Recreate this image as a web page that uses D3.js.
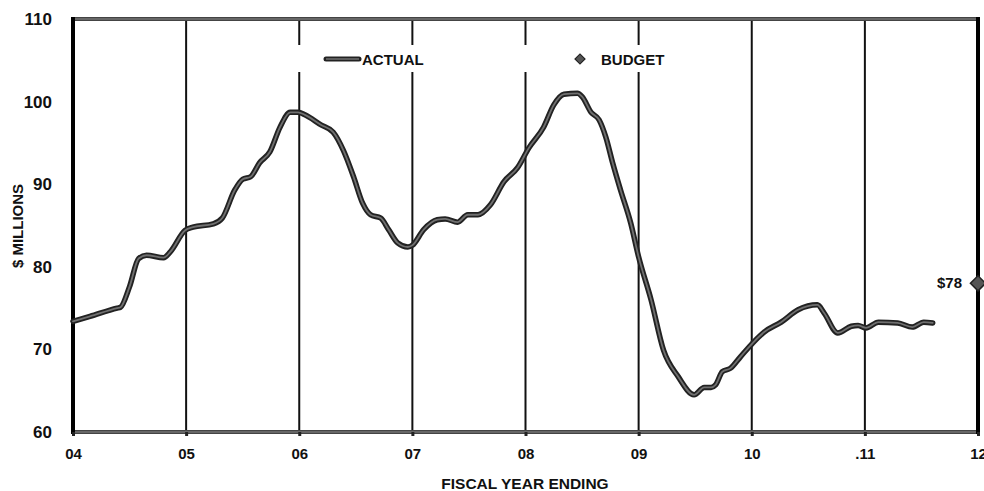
<!DOCTYPE html>
<html>
<head>
<meta charset="utf-8">
<script src="https://cdn.jsdelivr.net/npm/d3@7"></script>
<style>
  html, body { margin: 0; padding: 0; background: #fff; }
  svg { display: block; font-family: Arial, "Liberation Sans", sans-serif; font-weight: bold; }
</style>
</head>
<body>
<svg id="chart" width="984" height="491"></svg>
<script>
// Fiscal-year ticks and their labels
const yearTicks = [2004, 2005, 2006, 2007, 2008, 2009, 2010, 2011, 2012];
const yearLabels = ["04", "05", "06", "07", "08", "09", "10", ".11", "12"];
const valueTicks = [60, 70, 80, 90, 100, 110];

// Actual revenue ($ millions) by fractional fiscal year
const periods = [
  2004.00, 2004.15, 2004.39, 2004.42, 2004.50, 2004.58, 2004.65, 2004.80, 2004.86, 2004.99,
  2005.06, 2005.24, 2005.32, 2005.43, 2005.50, 2005.57, 2005.65, 2005.74, 2005.83, 2005.92,
  2005.99, 2006.05, 2006.19, 2006.30, 2006.39, 2006.48, 2006.56, 2006.63, 2006.72, 2006.79,
  2006.87, 2006.96, 2007.00, 2007.10, 2007.22, 2007.29, 2007.40, 2007.49, 2007.58, 2007.69,
  2007.81, 2007.93, 2008.03, 2008.16, 2008.25, 2008.34, 2008.46, 2008.50, 2008.58, 2008.65,
  2008.71, 2008.77, 2008.84, 2008.93, 2009.00, 2009.11, 2009.22, 2009.35, 2009.49, 2009.58,
  2009.64, 2009.68, 2009.74, 2009.81, 2009.90, 2010.01, 2010.11, 2010.26, 2010.41, 2010.58,
  2010.64, 2010.76, 2010.88, 2010.94, 2011.01, 2011.12, 2011.29, 2011.42, 2011.52, 2011.60
];
const actual = [
  73.4, 74.0, 75.0, 75.1, 77.6, 81.0, 81.4, 81.1, 81.8, 84.4,
  84.8, 85.2, 85.9, 89.3, 90.6, 90.9, 92.6, 93.9, 96.9, 98.7,
  98.7, 98.4, 97.2, 96.3, 94.1, 90.9, 87.7, 86.3, 85.9, 84.5,
  82.9, 82.4, 82.6, 84.5, 85.7, 85.8, 85.4, 86.3, 86.3, 87.5,
  90.3, 92.0, 94.4, 96.9, 99.6, 100.9, 101.0, 100.6, 98.7, 97.8,
  95.7, 92.6, 89.3, 85.3, 81.2, 76.0, 69.9, 66.7, 64.5, 65.4,
  65.4, 65.7, 67.3, 67.7, 69.1, 70.8, 72.1, 73.3, 74.8, 75.4,
  74.4, 72.0, 72.8, 72.9, 72.6, 73.3, 73.2, 72.7, 73.3, 73.2
];

// Budget target for fiscal year 2012
const budgetYear = [2012];
const budgetValue = [78];

const svg = d3.select("#chart");
const plotLeft = 73, plotRight = 978, plotTop = 19, plotBottom = 432;

const x = d3.scaleLinear().domain([2004, 2012]).range([plotLeft, plotRight]);
const y = d3.scaleLinear().domain([60, 110]).range([plotBottom, plotTop]);

// Vertical year grid lines
svg.append("g").selectAll("line")
  .data(yearTicks.slice(1, -1))
  .join("line")
  .attr("x1", d => x(d)).attr("x2", d => x(d))
  .attr("y1", plotTop).attr("y2", plotBottom)
  .attr("stroke", "#111").attr("stroke-width", 2);

// Top and bottom frame
[110, 60].forEach(v => {
  svg.append("line")
    .attr("x1", plotLeft).attr("x2", plotRight)
    .attr("y1", y(v)).attr("y2", y(v))
    .attr("stroke", "#444").attr("stroke-width", 4);
  svg.append("line")
    .attr("x1", plotLeft).attr("x2", plotRight)
    .attr("y1", y(v)).attr("y2", y(v))
    .attr("stroke", "#8a8a8a").attr("stroke-width", 1.2);
});

// Heavy left and right edges
[2004, 2012].forEach(d => {
  svg.append("line")
    .attr("x1", x(d)).attr("x2", x(d))
    .attr("y1", plotTop - 2).attr("y2", plotBottom + 2)
    .attr("stroke", "#000").attr("stroke-width", 4);
});

// Legend box (blanks the grid behind it)
svg.append("rect")
  .attr("x", 294).attr("y", 45).attr("width", 348).attr("height", 27)
  .attr("fill", "#fff");

// Y axis
const yAxis = d3.axisLeft(y).tickValues(valueTicks).tickSize(0).tickPadding(21).tickFormat(d3.format("d"));
const gy = svg.append("g").attr("transform", `translate(${plotLeft},0)`).call(yAxis);
gy.select(".domain").remove();
gy.selectAll("text").attr("font-size", 17).attr("font-weight", "bold").attr("fill", "#111")
  .attr("font-family", "Arial, 'Liberation Sans', sans-serif");

// X axis
const xAxis = d3.axisBottom(x).tickValues(yearTicks).tickSize(4).tickPadding(12)
  .tickFormat((d, i) => yearLabels[i]);
const gx = svg.append("g").attr("transform", `translate(0,${plotBottom})`).call(xAxis);
gx.select(".domain").remove();
gx.selectAll(".tick line").attr("stroke", "#222").attr("stroke-width", 3);
gx.selectAll("text").attr("font-size", 15).attr("font-weight", "bold").attr("fill", "#111")
  .attr("font-family", "Arial, 'Liberation Sans', sans-serif");

// Axis titles
svg.append("text")
  .attr("x", 525).attr("y", 489).attr("text-anchor", "middle")
  .attr("font-size", 15.5).attr("fill", "#111")
  .text("FISCAL YEAR ENDING");
svg.append("text")
  .attr("transform", "translate(23,226) rotate(-90)")
  .attr("text-anchor", "middle")
  .attr("font-size", 15).attr("fill", "#111")
  .text("$ MILLIONS");

// Actual series
const series = periods.map((p, i) => ({ t: p, v: actual[i] }));
const line = d3.line().x(d => x(d.t)).y(d => y(d.v)).curve(d3.curveMonotoneX);
svg.append("path").datum(series).attr("d", line)
  .attr("fill", "none").attr("stroke", "#222").attr("stroke-width", 5.5)
  .attr("stroke-linejoin", "round").attr("stroke-linecap", "round");
svg.append("path").datum(series).attr("d", line)
  .attr("fill", "none").attr("stroke", "#707070").attr("stroke-width", 1.8)
  .attr("stroke-linejoin", "round").attr("stroke-linecap", "round");

// Budget marker (square turned 45°) and label
const square = d3.symbol().type(d3.symbolSquare);
budgetYear.forEach((b, i) => {
  const bx = x(b), by = y(budgetValue[i]);
  svg.append("path").attr("d", square.size(115)())
    .attr("transform", `translate(${bx},${by}) rotate(45)`)
    .attr("fill", "#555").attr("stroke", "#222").attr("stroke-width", 1.5);
  svg.append("text")
    .attr("x", bx - 16).attr("y", by + 5).attr("text-anchor", "end")
    .attr("font-size", 15).attr("fill", "#111")
    .text("$" + budgetValue[i]);
});

// Legend entries
svg.append("line").attr("x1", 326).attr("x2", 359).attr("y1", 59).attr("y2", 59)
  .attr("stroke", "#222").attr("stroke-width", 5).attr("stroke-linecap", "round");
svg.append("line").attr("x1", 326).attr("x2", 359).attr("y1", 59).attr("y2", 59)
  .attr("stroke", "#707070").attr("stroke-width", 1.6);
svg.append("text").attr("x", 362).attr("y", 64.5)
  .attr("font-size", 15).attr("fill", "#111").text("ACTUAL");
svg.append("path").attr("d", square.size(50)())
  .attr("transform", "translate(580,59) rotate(45)")
  .attr("fill", "#555").attr("stroke", "#222").attr("stroke-width", 1.2);
svg.append("text").attr("x", 601).attr("y", 64.5)
  .attr("font-size", 15).attr("fill", "#111").text("BUDGET");
</script>
</body>
</html>
